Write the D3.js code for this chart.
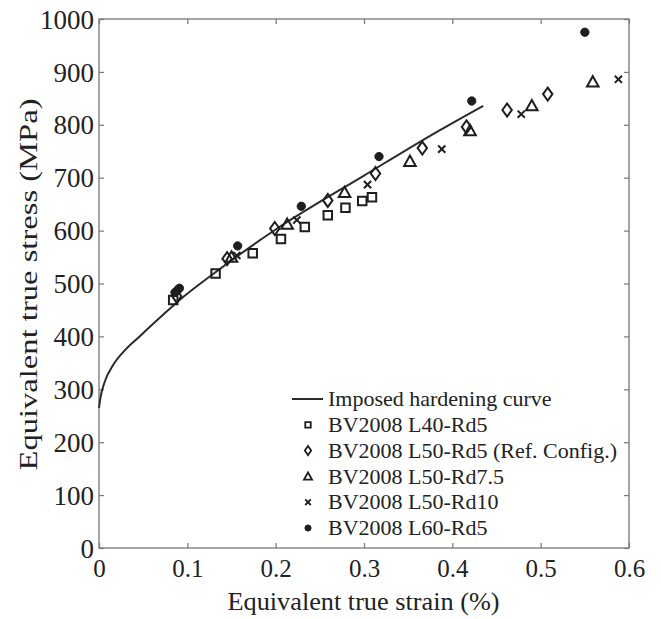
<!DOCTYPE html>
<html>
<head>
<meta charset="utf-8">
<script src="https://cdn.jsdelivr.net/npm/d3@7"></script>
<style>
  html, body { margin: 0; padding: 0; background: #fff; }
  svg { display: block; }
  text { font-family: "Liberation Serif", "Times New Roman", serif; fill: #222; }
</style>
</head>
<body>
<svg id="chart" width="661" height="619"></svg>
<script>
// ---- data ----
const curveStrain = [0, 0.002, 0.006, 0.016, 0.03, 0.046, 0.07, 0.09, 0.13, 0.2, 0.3, 0.386, 0.435];
const curveStress = [265, 287, 312, 346, 375, 400, 437, 467, 519, 602, 704, 790, 836];

const l40Strain = [0.084, 0.132, 0.174, 0.206, 0.233, 0.259, 0.279, 0.298, 0.309];
const l40Stress = [469, 519, 557, 584, 607, 629, 643, 656, 663];

const l50Rd5Strain = [0.088, 0.145, 0.199, 0.259, 0.313, 0.366, 0.416, 0.462, 0.508];
const l50Rd5Stress = [476, 547, 604, 657, 708, 756, 796, 828, 858];

const l50Rd75Strain = [0.150, 0.213, 0.278, 0.352, 0.420, 0.490, 0.559];
const l50Rd75Stress = [550, 612, 672, 731, 789, 836, 881];

const l50Rd10Strain = [0.156, 0.224, 0.304, 0.388, 0.478, 0.588];
const l50Rd10Stress = [553, 620, 687, 754, 820, 886];

const l60Strain = [0.086, 0.089, 0.091, 0.157, 0.229, 0.317, 0.422, 0.550];
const l60Stress = [483, 488, 491, 571, 646, 740, 845, 975];

const xTicks = [0, 0.1, 0.2, 0.3, 0.4, 0.5, 0.6];
const yTicks = [0, 100, 200, 300, 400, 500, 600, 700, 800, 900, 1000];
const xTickLabels = ["0", "0.1", "0.2", "0.3", "0.4", "0.5", "0.6"];
const yTickLabels = ["0", "100", "200", "300", "400", "500", "600", "700", "800", "900", "1000"];

const legendLabels = [
  "Imposed hardening curve",
  "BV2008 L40-Rd5",
  "BV2008 L50-Rd5 (Ref. Config.)",
  "BV2008 L50-Rd7.5",
  "BV2008 L50-Rd10",
  "BV2008 L60-Rd5"
];

// ---- layout ----
const L = 99, R = 629, T = 19, B = 548;
const svg = d3.select("#chart");
const x = d3.scaleLinear().domain([0, 0.6]).range([L, R]);
const y = d3.scaleLinear().domain([0, 1000]).range([B, T]);
const axisColor = "#777";
const markColor = "#1e1e1e";
const serif = '"Liberation Serif", "Times New Roman", serif';

// box
svg.append("rect").attr("x", L).attr("y", T).attr("width", R - L).attr("height", B - T)
  .attr("fill", "none").attr("stroke", axisColor).attr("stroke-width", 1.3);

// axes via d3 axes (inward ticks)
const tl = 5;
const gxB = svg.append("g").attr("transform", `translate(0,${B})`)
  .call(d3.axisBottom(x).tickValues(xTicks).tickSizeInner(-tl).tickSizeOuter(0).tickPadding(11)
    .tickFormat((d, i) => xTickLabels[i]));
const gxT = svg.append("g").attr("transform", `translate(0,${T})`)
  .call(d3.axisTop(x).tickValues(xTicks).tickSizeInner(-tl).tickSizeOuter(0).tickFormat(""));
const gyL = svg.append("g").attr("transform", `translate(${L},0)`)
  .call(d3.axisLeft(y).tickValues(yTicks).tickSizeInner(-tl).tickSizeOuter(0).tickPadding(5)
    .tickFormat((d, i) => yTickLabels[i]));
const gyR = svg.append("g").attr("transform", `translate(${R},0)`)
  .call(d3.axisRight(y).tickValues(yTicks).tickSizeInner(-tl).tickSizeOuter(0).tickFormat(""));

[gxB, gxT, gyL, gyR].forEach(g => {
  g.select(".domain").remove();
  g.selectAll(".tick line").attr("stroke", axisColor).attr("stroke-width", 1.2);
  g.selectAll(".tick text").attr("fill", "#222").style("font-family", serif);
});
gxB.selectAll(".tick text").style("font-size", "25px").attr("dy", "0.71em");
gyL.selectAll(".tick text").style("font-size", "27px").attr("dy", "0.34em");

// axis titles
svg.append("text").attr("x", (L + R) / 2 - 0.5).attr("y", 610).attr("text-anchor", "middle")
  .style("font-size", "25px").attr("textLength", 272).attr("lengthAdjust", "spacingAndGlyphs")
  .text("Equivalent true strain (%)");
svg.append("text").attr("transform", `translate(37,${(T + B) / 2 + 1}) rotate(-90)`)
  .attr("text-anchor", "middle").style("font-size", "25px")
  .attr("textLength", 372).attr("lengthAdjust", "spacingAndGlyphs")
  .text("Equivalent true stress (MPa)");

// curve
const curveData = curveStrain.map((s, i) => [s, curveStress[i]]);
const line = d3.line().x(d => x(d[0])).y(d => y(d[1])).curve(d3.curveMonotoneX);
svg.append("path").attr("d", line(curveData)).attr("fill", "none")
  .attr("stroke", "#2a2a2a").attr("stroke-width", 2);

// symbols
const sq = d3.symbol().type(d3.symbolSquare).size(72);
const dia = d => `M0,-6.5L4.7,0L0,6.5L-4.7,0Z`;
const tri = d => `M0,-5.8L5.8,4.6L-5.8,4.6Z`;
const cross = d => `M-3.6,-3.6L3.6,3.6M-3.6,3.6L3.6,-3.6`;
const dot = d3.symbol().type(d3.symbolCircle).size(54);

function drawSeries(xs, ys, pathFn, filled, sw) {
  const data = xs.map((s, i) => [s, ys[i]]);
  svg.append("g").selectAll("path").data(data).join("path")
    .attr("transform", d => `translate(${x(d[0])},${y(d[1])})`)
    .attr("d", pathFn)
    .attr("fill", filled ? markColor : "none")
    .attr("stroke", markColor).attr("stroke-width", sw);
}
drawSeries(l40Strain, l40Stress, sq, false, 2);
drawSeries(l50Rd5Strain, l50Rd5Stress, dia, false, 2);
drawSeries(l50Rd75Strain, l50Rd75Stress, tri, false, 2);
drawSeries(l50Rd10Strain, l50Rd10Stress, cross, false, 2);
drawSeries(l60Strain, l60Stress, dot, true, 1);

// legend
const legX = 308, legText = 328, legY0 = 399, legDy = 25.8;
const lg = svg.append("g");
lg.append("line").attr("x1", 292).attr("x2", 323).attr("y1", legY0).attr("y2", legY0)
  .attr("stroke", "#2a2a2a").attr("stroke-width", 2);
const legSyms = [
  [d3.symbol().type(d3.symbolSquare).size(30)(), false],
  [`M0,-4.5L3.2,0L0,4.5L-3.2,0Z`, false],
  [`M0,-4L4,3.3L-4,3.3Z`, false],
  [`M-2.8,-2.8L2.8,2.8M-2.8,2.8L2.8,-2.8`, false],
  [d3.symbol().type(d3.symbolCircle).size(30)(), true]
];
legSyms.forEach((s, i) => {
  lg.append("path").attr("transform", `translate(${legX},${legY0 + (i + 1) * legDy})`)
    .attr("d", s[0]).attr("fill", s[1] ? markColor : "none")
    .attr("stroke", markColor).attr("stroke-width", s[1] ? 1 : 1.8);
});
legendLabels.forEach((t, i) => {
  lg.append("text").attr("x", legText).attr("y", legY0 + i * legDy).attr("dy", "0.33em")
    .style("font-size", "22px").text(t);
});
</script>
</body>
</html>
